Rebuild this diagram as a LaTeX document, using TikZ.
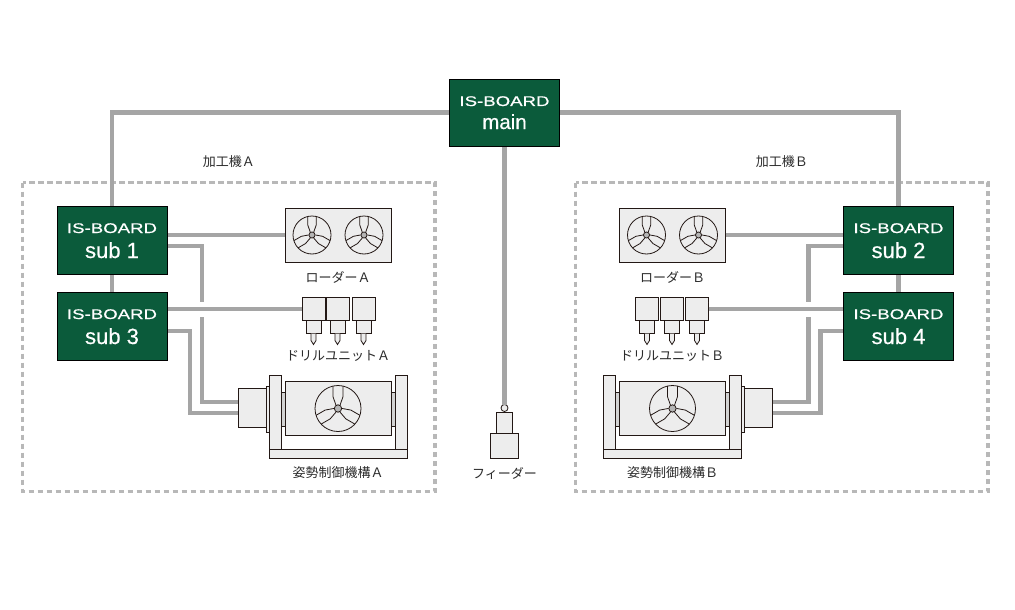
\documentclass[tikz,border=0pt]{standalone}
\usepackage{fontspec}
\usepackage{graphicx}
\setmainfont{Liberation Sans}
\newfontfamily\boardfont[FakeBold=0.5]{Liberation Sans}
\newfontfamily\jpfont{Noto Sans CJK JP}
\definecolor{boardgreen}{HTML}{0B5B3B}
\definecolor{wiregray}{HTML}{A5A5A5}
\definecolor{dashgray}{HTML}{B8B8B8}
\definecolor{devfill}{HTML}{EDEDED}
\definecolor{stubfill}{HTML}{D3D3D3}
\definecolor{hubgray}{HTML}{B5B5B5}
\definecolor{outline}{HTML}{231815}
\definecolor{labeltext}{HTML}{2B2B2B}
\tikzset{
  wire/.style={draw=wiregray, line width=4.5pt},
  bridge/.style={wire, preaction={draw=white, line width=15pt}},
  zone/.style={draw=dashgray, line width=3.5pt, dash pattern=on 5.5pt off 3.5pt},
  board/.style={draw=black, fill=boardgreen, line width=0.8pt, minimum width=110pt, minimum height=68pt, inner sep=0pt, outer sep=0pt},
  bdhead/.style={text=white, anchor=base, inner sep=0pt, font=\boardfont\fontsize{14pt}{14pt}\selectfont},
  bdname/.style={text=white, anchor=base, inner sep=0pt, font=\boardfont\fontsize{22pt}{22pt}\selectfont},
  dev/.style={draw=outline, fill=devfill, line width=0.8pt, inner sep=0pt, outer sep=0pt},
  part/.style={draw=outline, fill=devfill, line width=0.8pt},
  stub/.style={draw=outline, fill=stubfill, line width=0.8pt},
  lbl/.style={text=labeltext, font=\jpfont\fontsize{13pt}{13pt}\selectfont, inner sep=0pt},
  chuckline/.style={draw=outline, line width=0.8pt},
  chuck/.pic={
    \foreach \a in {0,120,240}{
      \draw[chuckline, rotate=\a] (-0.22,-0.975) -- (-0.22,-0.52) -- (-0.09,-0.15);
      \draw[chuckline, rotate=\a] (0.22,-0.975) -- (0.22,-0.52) -- (0.09,-0.15);
    }
    \draw[chuckline] (0,0) circle (1);
    \draw[chuckline, fill=hubgray] (0,0) circle (0.16);
  }
}
\begin{document}
\begin{tikzpicture}[x=1pt,y=-1pt]
\useasboundingbox[fill=white] (0,0) rectangle (1015,610);

% machine zones
\draw[zone] (22.5,182.5) rectangle (435,491.5);
\draw[zone] (575.5,182.5) rectangle (988,491.5);
\node[lbl] (zoneAl) at (228.75,162) {加工機Ａ};
\node[lbl] (zoneBl) at (781.75,162) {加工機Ｂ};

% boards (placed first so wires can reference them; redrawn on top below)
\node[board, minimum height=67pt] (main) at (504.5,112.5) {};
\node[board] (sub1) at (112,240) {};
\node[board] (sub3) at (112,326) {};
\node[board] (sub2) at (898.5,240) {};
\node[board] (sub4) at (898.5,326) {};

% devices
\node[dev, minimum width=106pt, minimum height=54pt] (loaderA) at (338,235) {};
\node[dev, minimum width=106pt, minimum height=54pt] (loaderB) at (672.5,235) {};
\node[dev, minimum width=28.5pt, minimum height=39pt] (motorA) at (252.25,407.5) {};
\node[dev, minimum width=28.5pt, minimum height=39pt] (motorB) at (758.25,407.5) {};
\node[dev, circle, minimum size=7pt] (feedring) at (504.5,408) {};
\foreach \c/\n in {313.5/1,337.5/2,363.5/3}{
  \node[dev, minimum width=23pt, minimum height=23pt] (drA\n) at (\c,309) {};
}
\foreach \c/\n in {647/1,672/2,697/3}{
  \node[dev, minimum width=23pt, minimum height=23pt] (drB\n) at (\c,309) {};
}

% wires
\draw[wire] (main.west) -| (sub1.north);
\draw[wire] (main.east) -| (sub2.north);
\draw[wire] (main.south) -- (feedring.north);
\draw[wire] (sub1.south) -- (sub3.north);
\draw[wire] (sub2.south) -- (sub4.north);
\draw[wire] (loaderA.west -| sub1.east) -- (loaderA.west);
\draw[wire] (loaderB.east) -- (loaderB.east -| sub2.west);
\draw[wire] ([yshift=-6pt]sub1.east) -- ++(35,0) |- ([yshift=5.5pt]motorA.west);
\draw[wire] ([yshift=-5pt]sub3.east) -- ++(23,0) |- ([yshift=-5.5pt]motorA.west);
\draw[wire] ([yshift=-6pt]sub2.west) -- ++(-35,0) |- ([yshift=5.5pt]motorB.east);
\draw[wire] ([yshift=-5pt]sub4.west) -- ++(-23,0) |- ([yshift=-5.5pt]motorB.east);
\draw[bridge] (drA1.west -| sub3.east) -- (drA1.west);
\draw[bridge] (drB3.east) -- (drB3.east -| sub4.west);

% boards on top
\node[board, minimum height=67pt] (mainbox) at (main) {};
\node[board] (sub1box) at (sub1) {};
\node[board] (sub3box) at (sub3) {};
\node[board] (sub2box) at (sub2) {};
\node[board] (sub4box) at (sub4) {};
\node[bdhead] (mainhd) at ([yshift=-27pt]main.north) {\scalebox{1.33}[1]{IS-BOARD}};
\node[bdname, font=\boardfont\fontsize{20.5pt}{20.5pt}\selectfont] (mainnm) at ([yshift=-50pt]main.north) {main};
\node[bdhead] (sub1hd) at ([yshift=-27pt]sub1.north) {\scalebox{1.33}[1]{IS-BOARD}};
\node[bdname] (sub1nm) at ([yshift=-52pt]sub1.north) {sub 1};
\node[bdhead] (sub3hd) at ([yshift=-27pt]sub3.north) {\scalebox{1.33}[1]{IS-BOARD}};
\node[bdname] (sub3nm) at ([yshift=-52pt]sub3.north) {sub 3};
\node[bdhead] (sub2hd) at ([yshift=-27pt]sub2.north) {\scalebox{1.33}[1]{IS-BOARD}};
\node[bdname] (sub2nm) at ([yshift=-52pt]sub2.north) {sub 2};
\node[bdhead] (sub4hd) at ([yshift=-27pt]sub4.north) {\scalebox{1.33}[1]{IS-BOARD}};
\node[bdname] (sub4nm) at ([yshift=-52pt]sub4.north) {sub 4};

% loaders
\pic[scale=19] at (312,235) {chuck};
\pic[scale=19] at (364,235) {chuck};
\pic[scale=19] at (646.5,235) {chuck};
\pic[scale=19] at (698.5,235) {chuck};
\node[lbl] (loaderAl) at (338,277) {ローダーＡ};
\node[lbl] (loaderBl) at (672.5,277) {ローダーＢ};

% drill units
\foreach \c in {313.5,337.5,363.5,647,672,697}{
  \draw[part] (\c-7.5,320.5) rectangle (\c+7.5,333.5);
  \draw[part] (\c-2.5,333.5) -- (\c-2.5,340.5) -- (\c,344.5) -- (\c+2.5,340.5) -- (\c+2.5,333.5);
}
\node[lbl] (drillAl) at (338,356) {ドリルユニットＡ};
\node[lbl] (drillBl) at (672,356) {ドリルユニットＢ};

% posture mechanism A
\draw[part] (269.5,375.5) rectangle (281,449);
\draw[part] (395,375.5) rectangle (407,449);
\draw[part] (269.5,449) rectangle (407,458);
\draw[stub] (281,392) rectangle (285,426);
\draw[stub] (391,392) rectangle (395,426);
\draw[part] (285,381.5) rectangle (391,435.5);
\draw[part] (266.5,386) rectangle (269.5,432);
\pic[scale=23] at (338,408.5) {chuck};
\node[lbl] (postAl) at (338,472.5) {姿勢制御機構Ａ};

% posture mechanism B
\draw[part] (729.5,375.5) rectangle (741,449);
\draw[part] (603.5,375.5) rectangle (615.5,449);
\draw[part] (603.5,449) rectangle (741,458);
\draw[stub] (725.5,392) rectangle (729.5,426);
\draw[stub] (615.5,392) rectangle (619.5,426);
\draw[part] (619.5,381.5) rectangle (725.5,435.5);
\draw[part] (741,386) rectangle (744,432);
\pic[scale=23] at (672.5,408.5) {chuck};
\node[lbl] (postBl) at (672.5,472.5) {姿勢制御機構Ｂ};

% feeder
\node[dev, minimum width=16pt, minimum height=21pt] (feedup) at (504.5,422.5) {};
\node[dev, minimum width=28pt, minimum height=25pt] (feedlow) at (504.5,445.5) {};
\node[lbl] (feedl) at (504.5,474) {フィーダー};
\end{tikzpicture}
\end{document}
